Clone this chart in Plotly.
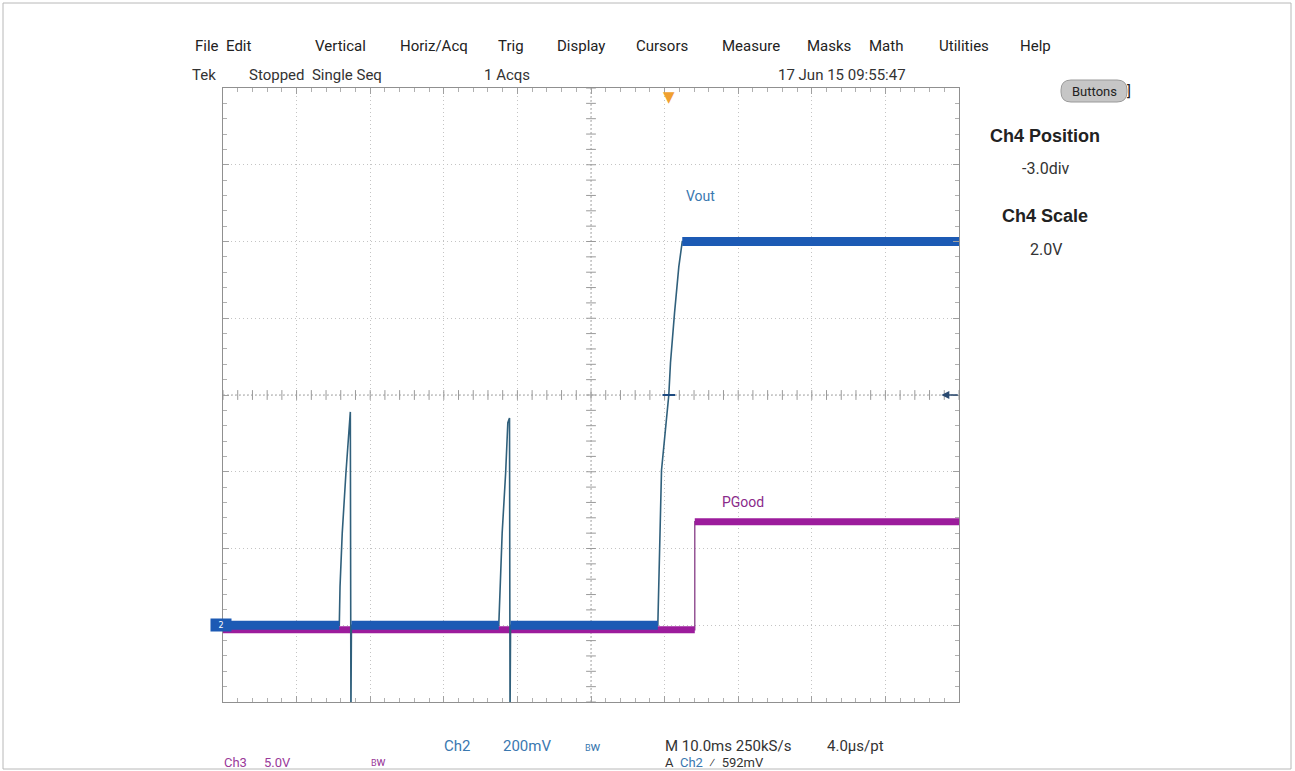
import numpy as np
import plotly.graph_objects as go

# ---------------- data (oscilloscope divisions: time -5..5, volts -4..4) ----------------
vout_t = [-5.0, -3.42, -3.41, -3.38, -3.33, -3.28, -3.27, -3.262, -3.255,
          -1.253, -1.239, -1.207, -1.16, -1.13, -1.107, -1.10, -1.093,
          0.908, 0.927, 0.958, 1.057, 1.08, 1.135, 1.193, 1.24, 5.0]
vout_v = [-3.0, -3.0, -2.50, -1.80, -1.02, -0.33, -0.22, -4.2, -3.0,
          -3.0, -2.54, -1.80, -1.02, -0.36, -0.30, -4.2, -3.0,
          -3.0, -2.28, -0.98, 0.0, 0.42, 1.07, 1.67, 2.0, 2.0]
pgood_t = [-5.0, 1.41, 1.41, 5.0]
pgood_v = [-3.06, -3.06, -1.65, -1.65]
trigger_t = 1.057
trigger_level = 0.0

menu_items = ["File", "Edit", "Vertical", "Horiz/Acq", "Trig", "Display",
              "Cursors", "Measure", "Masks", "Math", "Utilities", "Help"]
menu_x = [207, 238, 340, 434, 511, 581, 662, 751, 829, 886, 964, 1035]

# ---------------- geometry ----------------
W, H = 1295, 771
L, R, T, B = 223, 959, 88, 702


def px(x):
    return (x - L) / (R - L)


def py(y):
    return (B - y) / (B - T)


def flat_segments(ts, vs):
    xs, ys = [], []
    for i in range(len(ts) - 1):
        if vs[i] == vs[i + 1]:
            xs += [ts[i], ts[i + 1], None]
            ys += [vs[i], vs[i + 1], None]
    return xs, ys


NARROW = "Roboto, Liberation Sans Narrow, Arial Narrow, sans-serif"
BOLDF = "Liberation Sans, Arial, sans-serif"
BLUE = "#1c5ab4"
PURPLE = "#9c1c9c"
TXTBLUE = "#3a78b0"
TXTPURP = "#9a3a9a"

fig = go.Figure()

# graticule center crosshair ticks
gx = np.round(np.arange(-5, 5.0001, 0.2), 2)
gy = np.round(np.arange(-4, 4.0001, 0.2), 2)
fig.add_shape(type="line", x0=-5, x1=5, y0=0, y1=0, line=dict(color="#a8a8a8", width=1, dash="2px,2px"), layer="below")
fig.add_shape(type="line", x0=0, x1=0, y0=-4, y1=4, line=dict(color="#a8a8a8", width=1, dash="2px,2px"), layer="below")
fig.add_trace(go.Scatter(x=gx, y=[0] * len(gx), mode="markers", hoverinfo="skip",
                         marker=dict(symbol="line-ns", size=7, line=dict(color="#9a9a9a", width=1))))
fig.add_trace(go.Scatter(x=[0] * len(gy), y=gy, mode="markers", hoverinfo="skip",
                         marker=dict(symbol="line-ew", size=7, line=dict(color="#9a9a9a", width=1))))

# PGood
fig.add_trace(go.Scatter(x=pgood_t, y=pgood_v, mode="lines", hoverinfo="skip",
                         line=dict(color="#8e4a8e", width=1.4)))
fx, fy = flat_segments(pgood_t, pgood_v)
fig.add_trace(go.Scatter(x=fx, y=fy, mode="lines", hoverinfo="skip",
                         line=dict(color=PURPLE, width=7)))

# Vout / Ch2
fig.add_trace(go.Scatter(x=vout_t, y=vout_v, mode="lines", hoverinfo="skip",
                         line=dict(color="#30607c", width=1.6)))
fx, fy = flat_segments(vout_t, vout_v)
fig.add_trace(go.Scatter(x=fx, y=fy, mode="lines", hoverinfo="skip",
                         line=dict(color=BLUE, width=9)))

# trigger point marker
fig.add_trace(go.Scatter(x=[trigger_t], y=[trigger_level], mode="markers", hoverinfo="skip",
                         marker=dict(symbol="line-ew", size=9, line=dict(color="#1d4a80", width=2))))

axis_common = dict(showline=True, linecolor="#909090", linewidth=1, mirror="ticks",
                   ticks="inside", ticklen=6, tickcolor="#a0a0a0", showticklabels=False,
                   showgrid=True, gridcolor="#c4c4c4", gridwidth=1, zeroline=False,
                   minor=dict(ticks="inside", ticklen=4, dtick=0.2, tickcolor="#b0b0b0", showgrid=False),
                   fixedrange=True)
fig.update_xaxes(range=[-5, 5], dtick=1, tick0=0, griddash="1px,3px", **axis_common)
fig.update_yaxes(range=[-4, 4], dtick=1, tick0=0, griddash="1px,3px", **axis_common)

ann = []


def txt(x, y, s, size=15, color="#333", anchor="center", family=NARROW, bold=False):
    if bold:
        s = "<b>" + s + "</b>"
    ann.append(dict(x=px(x), y=py(y), xref="paper", yref="paper", text=s, showarrow=False,
                    xanchor=anchor, yanchor="middle", borderpad=0,
                    font=dict(size=size, color=color, family=family)))


for m, mx in zip(menu_items, menu_x):
    txt(mx, 46, m, color="#222")

txt(191, 75, "Tek", anchor="left")
txt(248, 75, "Stopped  Single Seq", anchor="left")
txt(483, 75, "1 Acqs", anchor="left")
txt(777, 75, "17 Jun 15 09:55:47", anchor="left")

txt(1045, 136, "Ch4 Position", size=18, color="#222", family=BOLDF, bold=True)
txt(1046, 169, "-3.0div", size=16, color="#333")
txt(1045, 216, "Ch4 Scale", size=18, color="#222", family=BOLDF, bold=True)
txt(1046, 249, "2.0V", size=16, color="#333")
txt(1094, 91, "Buttons", size=13, color="#222")
txt(1129, 91, "]", size=15, color="#222")

# bottom readouts
txt(457, 746, "Ch2", color=TXTBLUE)
txt(527, 746, "200mV", color=TXTBLUE)
txt(593, 746, "<span style='font-size:9px'>B</span>w", size=13, color=TXTBLUE)
txt(664, 746, "M 10.0ms 250kS/s", anchor="left")
txt(826, 746, "4.0µs/pt", anchor="left")
txt(235, 762, "Ch3", size=13, color=TXTPURP)
txt(277, 762, "5.0V", size=13, color=TXTPURP)
txt(378, 762, "<span style='font-size:9px'>B</span>w", size=12, color=TXTPURP)
txt(664, 762, "A  <span style='color:%s'>Ch2</span>  ⁄  592mV" % TXTBLUE, size=13, anchor="left")

# trace labels
ann.append(dict(x=1.49, y=2.59, xref="x", yref="y", text="Vout", showarrow=False,
                font=dict(size=14, color=TXTBLUE, family=NARROW)))
ann.append(dict(x=2.07, y=-1.39, xref="x", yref="y", text="PGood", showarrow=False,
                font=dict(size=14, color="#8a2a8a", family=NARROW)))

# trigger position marker (top) and level arrow (right)
ann.append(dict(x=trigger_t, y=4, xref="x", yref="y", text="▼", showarrow=False, yanchor="top",
                yshift=2, font=dict(size=15, color="#f0a030", family="DejaVu Sans")))
ann.append(dict(x=4.76, y=trigger_level, xref="x", yref="y", text="", showarrow=True,
                ax=18, ay=0, arrowhead=2, arrowsize=1, arrowwidth=1.6, arrowcolor="#2a4a70"))

# channel ground marker at left
ann.append(dict(x=px(210), y=-3.0, xref="paper", yref="y", text="2", showarrow=False,
                bgcolor=BLUE, width=18, height=10, font=dict(size=8, color="white", family="DejaVu Sans")))

fig.update_layout(annotations=ann)

# Buttons pill
bx, by, bw, bh, r = px(1094), py(91), 66, 22, 10
path = (f"M {-bw/2 + r},{-bh/2} L {bw/2 - r},{-bh/2} Q {bw/2},{-bh/2} {bw/2},{-bh/2 + r} "
        f"L {bw/2},{bh/2 - r} Q {bw/2},{bh/2} {bw/2 - r},{bh/2} L {-bw/2 + r},{bh/2} "
        f"Q {-bw/2},{bh/2} {-bw/2},{bh/2 - r} L {-bw/2},{-bh/2 + r} Q {-bw/2},{-bh/2} {-bw/2 + r},{-bh/2} Z")
fig.add_shape(type="path", path=path, xref="paper", yref="paper", xsizemode="pixel", ysizemode="pixel",
              xanchor=bx, yanchor=by, fillcolor="#c6c6c6", line=dict(color="#9a9a9a", width=1), layer="below")

# image frame
fig.add_shape(type="rect", xref="paper", yref="paper", x0=px(3), x1=px(1291), y0=py(769), y1=py(3),
              line=dict(color="#b8b8b8", width=1), layer="below")

fig.update_layout(width=W, height=H, autosize=False, showlegend=False,
                  margin=dict(l=L, r=W - R, t=T, b=H - B, pad=0),
                  paper_bgcolor="white", plot_bgcolor="white")

fig.write_html("out.html", config={"displayModeBar": False},
               post_script="document.body.style.margin='0px';")
